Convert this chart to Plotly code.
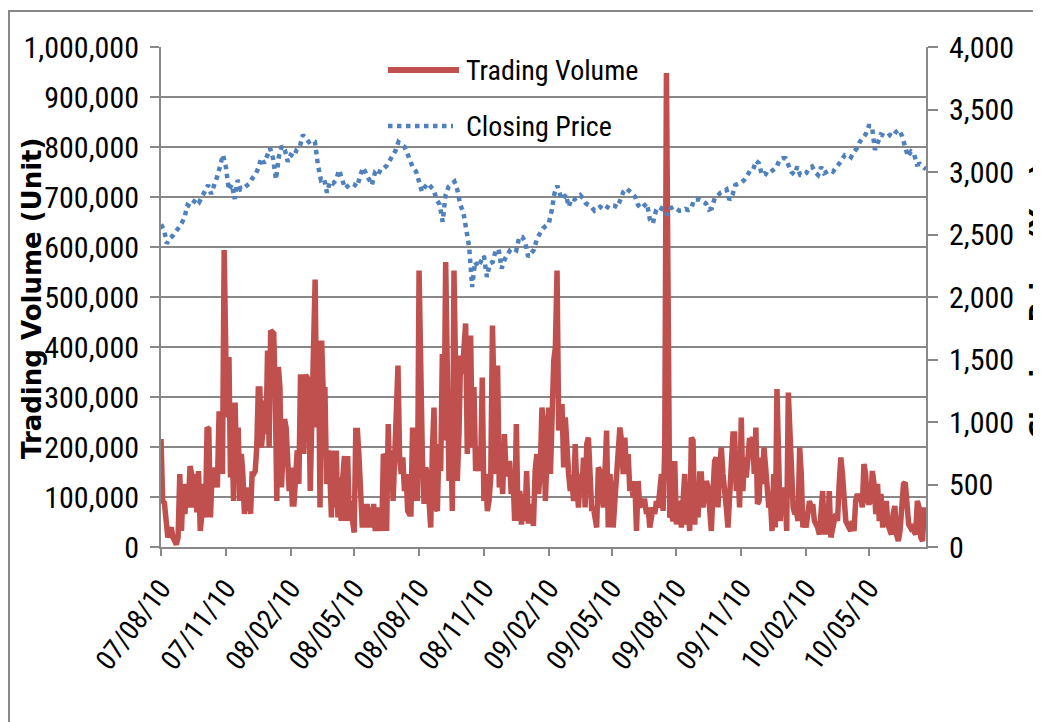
import pandas as pd
import plotly.graph_objects as go

# Quarter boundaries of the date axis (first = axis start, last = axis end)
quarter_dates = ["2007-08-10", "2007-11-10", "2008-02-10", "2008-05-10", "2008-08-10",
                 "2008-11-10", "2009-02-10", "2009-05-10", "2009-08-10", "2009-11-10",
                 "2010-02-10", "2010-05-10", "2010-07-30"]

# Trading volume (thousand units), read per quarter
volume_k_q = [
    [216, 92, 88, 40, 19, 32, 39, 19, 12, 5, 19, 146, 32, 126, 66, 126, 79, 162, 146, 79, 146, 69, 152, 32, 66, 126, 59, 239, 236, 59, 159, 119, 159, 119, 266, 266, 146, 594],
    [380, 259, 380, 139, 213, 92, 289, 146, 239, 92, 186, 146, 66, 119, 72, 116, 66, 146, 146, 152, 199, 316, 316, 199, 233, 293, 226, 393, 199, 433, 430, 427, 299, 92, 360, 320, 119, 236, 256, 239, 186, 112],
    [159, 86, 86, 172, 193, 126, 340, 340, 186, 343, 340, 330, 112, 259, 447, 535, 239, 413, 79, 413, 306, 320, 126, 193, 152, 59, 193, 79, 193, 59, 139, 52, 139, 182, 52, 182, 52, 92, 52],
    [29, 233, 233, 179, 126, 39, 86, 39, 86, 39, 79, 39, 86, 32, 79, 32, 66, 32, 186, 179, 32, 246, 112, 193, 92, 193, 293, 363, 179, 146, 179, 112, 146, 72, 66, 66, 239, 92, 226, 92],
    [553, 293, 179, 86, 159, 146, 79, 39, 193, 279, 79, 72, 206, 152, 386, 213, 570, 306, 132, 226, 72, 553, 346, 132, 226, 383, 346, 386, 447, 186, 346, 423, 199, 320, 152, 179, 199, 152, 339],
    [92, 146, 72, 92, 139, 443, 293, 146, 363, 119, 152, 106, 226, 146, 146, 172, 106, 146, 52, 246, 52, 112, 45, 106, 52, 152, 52, 52, 86, 42, 152, 186, 106, 152, 279, 246, 92, 199],
    [279, 146, 279, 373, 400, 553, 233, 279, 286, 159, 259, 179, 146, 112, 139, 92, 206, 119, 79, 146, 106, 179, 79, 206, 219, 146, 72, 79, 52, 39, 159, 152, 112, 79, 146, 233, 39, 146],
    [112, 39, 92, 132, 179, 239, 213, 146, 219, 146, 186, 112, 126, 99, 132, 32, 132, 79, 92, 92, 92, 66, 79, 39, 66, 79, 66, 92, 79, 132, 146, 72, 199, 948, 213, 59, 66, 52, 172],
    [45, 79, 92, 39, 99, 146, 45, 79, 32, 219, 213, 45, 112, 59, 146, 146, 79, 112, 132, 119, 86, 32, 112, 172, 179, 79, 159, 199, 146, 92, 79, 39, 99, 146, 226, 226, 112, 152, 79],
    [259, 112, 179, 139, 172, 213, 213, 219, 146, 239, 86, 92, 179, 126, 199, 146, 106, 79, 92, 32, 146, 39, 316, 146, 52, 119, 79, 112, 32, 309, 213, 112, 79, 66, 72, 52, 199, 146, 39, 55],
    [39, 66, 92, 79, 86, 52, 45, 39, 25, 79, 112, 25, 79, 25, 112, 19, 45, 52, 66, 52, 126, 179, 146, 79, 52, 45, 39, 32, 52, 32, 92, 106, 92, 106, 79, 166, 146, 92],
    [86, 92, 152, 126, 66, 126, 52, 106, 39, 79, 92, 45, 32, 25, 66, 82, 25, 12, 32, 66, 126, 129, 79, 45, 39, 45, 32, 25, 92, 79, 19, 12, 79, 52],
]

# Closing price (yen), read per quarter
close_q = [
    [2580, 2540, 2428, 2468, 2490, 2520, 2550, 2588, 2642, 2735, 2722, 2750, 2789, 2762, 2810, 2850, 2896, 2824, 2888, 2960, 3043, 3137],
    [3043, 2856, 2900, 2784, 2936, 2861, 2870, 2890, 2909, 2950, 2980, 3030, 3110, 3070, 3120, 3190, 3110, 2941, 3128, 3209, 3177, 3083],
    [3137, 3123, 3180, 3203, 3297, 3262, 3240, 3257, 3243, 3056, 2936, 2950, 2834, 2923, 2909, 2936, 3016, 2940, 2869, 2890, 2909],
    [2900, 2882, 2968, 3035, 2990, 2950, 2896, 2990, 2968, 3024, 3028, 3050, 3090, 3120, 3170, 3240, 3217, 3203, 3150, 3090, 3030, 3003],
    [2930, 2842, 2882, 2909, 2882, 2856, 2776, 2740, 2602, 2816, 2882, 2909, 2923, 2856, 2735, 2682, 2560, 2401, 2080, 2281, 2241, 2294],
    [2330, 2160, 2267, 2280, 2374, 2380, 2227, 2300, 2350, 2380, 2388, 2374, 2481, 2481, 2440, 2321, 2348, 2380, 2468, 2508, 2548, 2570],
    [2588, 2690, 2830, 2890, 2816, 2780, 2820, 2722, 2789, 2780, 2800, 2816, 2789, 2749, 2735, 2720, 2690, 2709, 2722, 2705, 2700, 2735],
    [2735, 2730, 2717, 2770, 2840, 2869, 2850, 2829, 2800, 2735, 2709, 2730, 2749, 2620, 2588, 2682, 2669, 2709, 2696, 2655, 2709, 2722],
    [2709, 2690, 2690, 2704, 2696, 2705, 2780, 2776, 2780, 2765, 2749, 2700, 2710, 2790, 2815, 2835, 2845, 2860, 2776, 2816, 2896, 2905],
    [2915, 2936, 2980, 3010, 3016, 3090, 3070, 2976, 2990, 2976, 3000, 3018, 3040, 3100, 3110, 3110, 3060, 3000, 2980, 3043, 2976, 2976],
    [2990, 3030, 3043, 3000, 2976, 3040, 2990, 3000, 3016, 3003, 3030, 3064, 3100, 3137, 3137, 3118, 3160, 3190, 3243, 3270, 3305],
    [3369, 3369, 3177, 3230, 3300, 3290, 3278, 3297, 3284, 3320, 3337, 3290, 3190, 3123, 3163, 3145, 3060, 3064, 3040, 3022],
]

series_names = ["Trading Volume", "Closing Price"]
left_title = "Trading Volume (Unit)"
right_title = "Closing Price (Yen)"


def spread(groups):
    """Place each quarter's readings evenly inside its quarter."""
    xs, ys = [], []
    last = len(groups) - 1
    for i, vals in enumerate(groups):
        a, b = pd.Timestamp(quarter_dates[i]), pd.Timestamp(quarter_dates[i + 1])
        if i == last:
            d = pd.date_range(a, b, periods=len(vals))
        else:
            d = pd.date_range(a, b, periods=len(vals) + 1)[:-1]
        xs.extend(d)
        ys.extend(vals)
    return xs, ys


vx, vy_k = spread(volume_k_q)
vy = [v * 1000 for v in vy_k]
cx, cy = spread(close_q)

RED = "#C0504D"
BLUE = "#4F81BD"
GRID = "#888888"
FONT = "Liberation Sans Narrow, Arial Narrow, Roboto Condensed, Liberation Sans, sans-serif"
BOLD = "DejaVu Sans, Liberation Sans, sans-serif"

fig = go.Figure()
fig.add_trace(go.Scatter(x=vx, y=vy, name=series_names[0], mode="lines",
                         line=dict(color=RED, width=5.5), yaxis="y"))
fig.add_trace(go.Scatter(x=cx, y=cy, name=series_names[1], mode="lines",
                         line=dict(color=BLUE, width=4.5, dash="4.5px,4.5px"), yaxis="y2"))

# page offset of the figure inside the browser page (body margin)
OFF = 8
W, H = 1041 - OFF, 722 - OFF
# plot area in page pixels
L, R, T, B = 161, 926, 47, 547
pw, ph = R - L, B - T


def px(x):
    return (x - L) / pw


def py(y):
    return (B - y) / ph


fig.update_layout(
    width=W, height=H,
    margin=dict(l=L - OFF, r=W - (R - OFF), t=T - OFF, b=H - (B - OFF), pad=0),
    paper_bgcolor="white", plot_bgcolor="white",
    showlegend=False,
    font=dict(family=FONT, size=30, color="black"),
    xaxis=dict(
        type="date",
        range=[quarter_dates[0], quarter_dates[-1]],
        tick0=quarter_dates[0], dtick="M3", tickformat="%y/%m/%d",
        tickangle=-53,
        showgrid=False, zeroline=False,
        showline=True, linecolor=GRID, linewidth=2,
        ticks="outside", ticklen=7, tickwidth=2, tickcolor=GRID,
        ticklabelstandoff=5,
        tickfont=dict(family=FONT, size=28, color="black"),
    ),
    yaxis=dict(
        range=[0, 1000000], dtick=100000, tickformat=",d",
        showgrid=True, gridcolor=GRID, gridwidth=2, zeroline=False,
        showline=True, linecolor=GRID, linewidth=2,
        ticks="outside", ticklen=9, tickwidth=2, tickcolor=GRID,
        ticklabelstandoff=5,
        tickfont=dict(family=FONT, size=30, color="black"),
    ),
    yaxis2=dict(
        range=[0, 4000], dtick=500, tickformat=",d",
        overlaying="y", side="right", anchor="x",
        showgrid=False, zeroline=False,
        showline=True, linecolor=GRID, linewidth=2,
        ticks="outside", ticklen=10, tickwidth=2, tickcolor=GRID,
        ticklabelstandoff=5,
        tickfont=dict(family=FONT, size=30, color="black"),
    ),
)

# outer chart frame
fig.add_shape(type="rect", xref="paper", yref="paper",
              x0=px(9), x1=px(1060), y0=py(740), y1=py(11),
              line=dict(color=GRID, width=2), fillcolor="rgba(0,0,0,0)", layer="below")

# axis titles
fig.add_annotation(text="<b>%s</b>" % left_title, xref="paper", yref="paper",
                   x=px(32), y=py(299), textangle=-90, showarrow=False,
                   xanchor="center", yanchor="middle",
                   font=dict(family=BOLD, size=26, color="black"))
fig.add_annotation(text="<b>%s</b>" % right_title, xref="paper", yref="paper",
                   x=px(1040), y=py(301), textangle=-90, showarrow=False,
                   xanchor="center", yanchor="middle",
                   font=dict(family=BOLD, size=26, color="black"))

# legend (drawn inside plot, Excel style)
fig.add_shape(type="line", xref="paper", yref="paper", x0=px(388), x1=px(459),
              y0=py(70), y1=py(70), line=dict(color=RED, width=6))
fig.add_shape(type="line", xref="paper", yref="paper", x0=px(388), x1=px(453),
              y0=py(126), y1=py(126), line=dict(color=BLUE, width=4.5, dash="4.5px,4.5px"))
fig.add_annotation(text=series_names[0], xref="paper", yref="paper", x=px(464), y=py(70),
                   xanchor="left", yanchor="middle", showarrow=False,
                   font=dict(family=FONT, size=28, color="black"))
fig.add_annotation(text=series_names[1], xref="paper", yref="paper", x=px(464), y=py(126),
                   xanchor="left", yanchor="middle", showarrow=False,
                   font=dict(family=FONT, size=28, color="black"))

fig.write_html("out.html")
